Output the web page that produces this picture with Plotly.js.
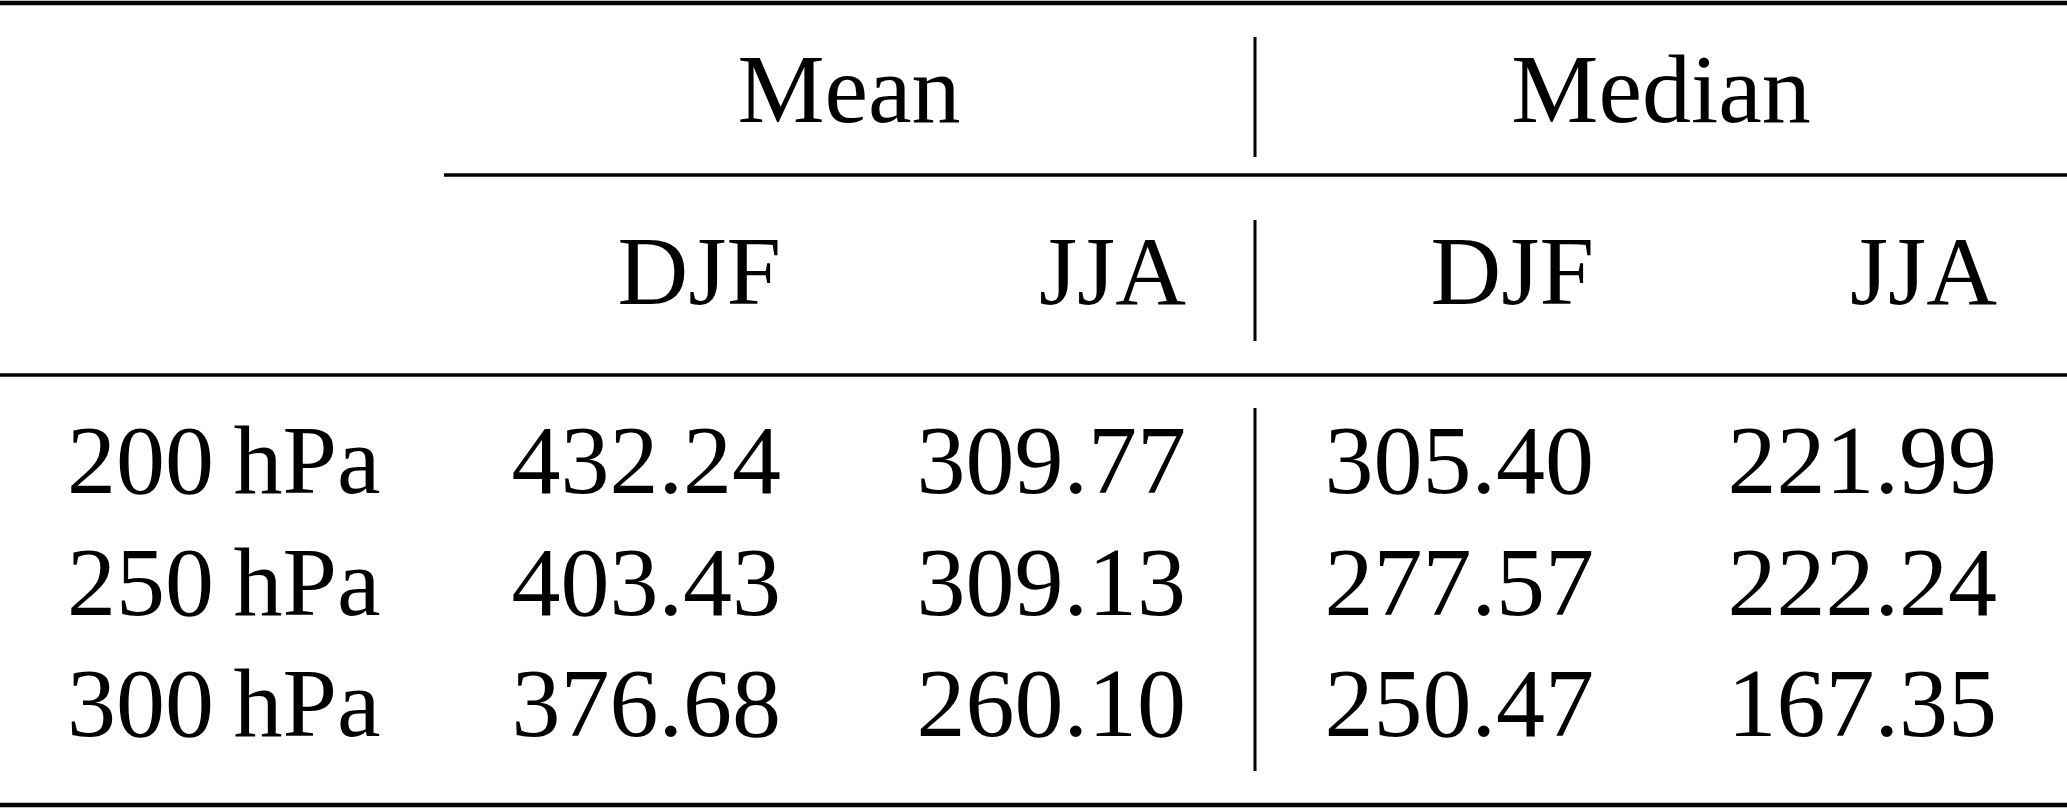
<!DOCTYPE html>
<html>
<head>
<meta charset="utf-8">
<title>Mean and median by pressure level</title>
<script src="https://cdn.plot.ly/plotly-3.0.1.min.js"></script>
<style>
    html, body { margin:0; padding:0; background:#ffffff; overflow:hidden; }
    #tableChart { width:2067px; height:808px; }
</style>
</head>
<body>

<div id="tableChart"></div>

<script>

// ==========================================================
// TABLE DATA
// ==========================================================

const levels = ["200\u2009hPa", "250\u2009hPa", "300\u2009hPa"];

const statistics = ["Mean", "Median"];

const seasons = ["DJF", "JJA"];

const meanDJF = [432.24, 403.43, 376.68];
const meanJJA = [309.77, 309.13, 260.10];

const medianDJF = [305.40, 277.57, 250.47];
const medianJJA = [221.99, 222.24, 167.35];


// ==========================================================
// LAYOUT CONSTANTS (page pixels, y grows downwards)
// ==========================================================

const W = 2067;
const H = 808;

const fontSize = 98;
const fontFamily = "Liberation Serif, Times New Roman, serif";

// right edges of the four number columns
const colRight = [781, 1186, 1594, 1997];

// centres of the two group headings
const groupCentre = [849, 1661];

const labelLeft = 67;

const groupBaseline = 122;
const seasonBaseline = 304;
const rowBaselines = [493, 615, 736];

const ruleX = 1255;


// plotly puts a "middle" text baseline 0.25em under the point
function baselineToY(b){
    return b - 0.25 * fontSize;
}


function textTrace(xs, ys, texts, position){

    return {
        x: xs,
        y: ys.map(baselineToY),
        text: texts,
        mode: "text",
        type: "scatter",
        textposition: position,
        textfont: {
            family: fontFamily,
            size: fontSize,
            color: "#000000"
        },
        hoverinfo: "skip",
        cliponaxis: false
    };

}


function fmt(values){
    return values.map(v => v.toFixed(2));
}


// ==========================================================
// TRACES
// ==========================================================

let traces = [];

// group headings
traces.push(
    textTrace(
        groupCentre,
        groupCentre.map(() => groupBaseline),
        statistics,
        "middle center"
    )
);

// season headings, one per number column
let seasonRow = [seasons[0], seasons[1], seasons[0], seasons[1]];

traces.push(
    textTrace(
        colRight,
        colRight.map(() => seasonBaseline),
        seasonRow,
        "middle left"
    )
);

// pressure levels
traces.push(
    textTrace(
        levels.map(() => labelLeft),
        rowBaselines,
        levels,
        "middle right"
    )
);

// numbers
[meanDJF, meanJJA, medianDJF, medianJJA].forEach((col, i) => {

    traces.push(
        textTrace(
            col.map(() => colRight[i]),
            rowBaselines,
            fmt(col),
            "middle left"
        )
    );

});


// ==========================================================
// RULES
// ==========================================================

function hRule(x0, x1, y, width){
    return {
        type: "line", xref: "x", yref: "y",
        x0: x0, x1: x1, y0: y, y1: y,
        line: { color: "#000000", width: width }
    };
}

function vRule(y0, y1){
    return {
        type: "line", xref: "x", yref: "y",
        x0: ruleX, x1: ruleX, y0: y0, y1: y1,
        line: { color: "#000000", width: 3 }
    };
}

let shapes = [
    hRule(0, W, 3, 4.5),      // top rule
    hRule(444, W, 175, 3.5),  // under Mean / Median
    hRule(0, W, 375, 3.5),    // mid rule
    hRule(0, W, 805, 4.5),    // bottom rule
    vRule(37, 157),
    vRule(220, 341),
    vRule(408, 771)
];


// ==========================================================
// PLOT
// ==========================================================

let hiddenAxis = {
    visible: false,
    showgrid: false,
    zeroline: false,
    fixedrange: true
};

let layout = {
    width: W,
    height: H,
    margin: { l:0, r:0, t:0, b:0, pad:0 },
    paper_bgcolor: "#ffffff",
    plot_bgcolor: "#ffffff",
    showlegend: false,
    hovermode: false,
    xaxis: Object.assign({ range: [0, W] }, hiddenAxis),
    yaxis: Object.assign({ range: [H, 0] }, hiddenAxis),
    shapes: shapes
};

Plotly.newPlot(
    "tableChart",
    traces,
    layout,
    { staticPlot: true, displayModeBar: false }
);

</script>
</body>
</html>
